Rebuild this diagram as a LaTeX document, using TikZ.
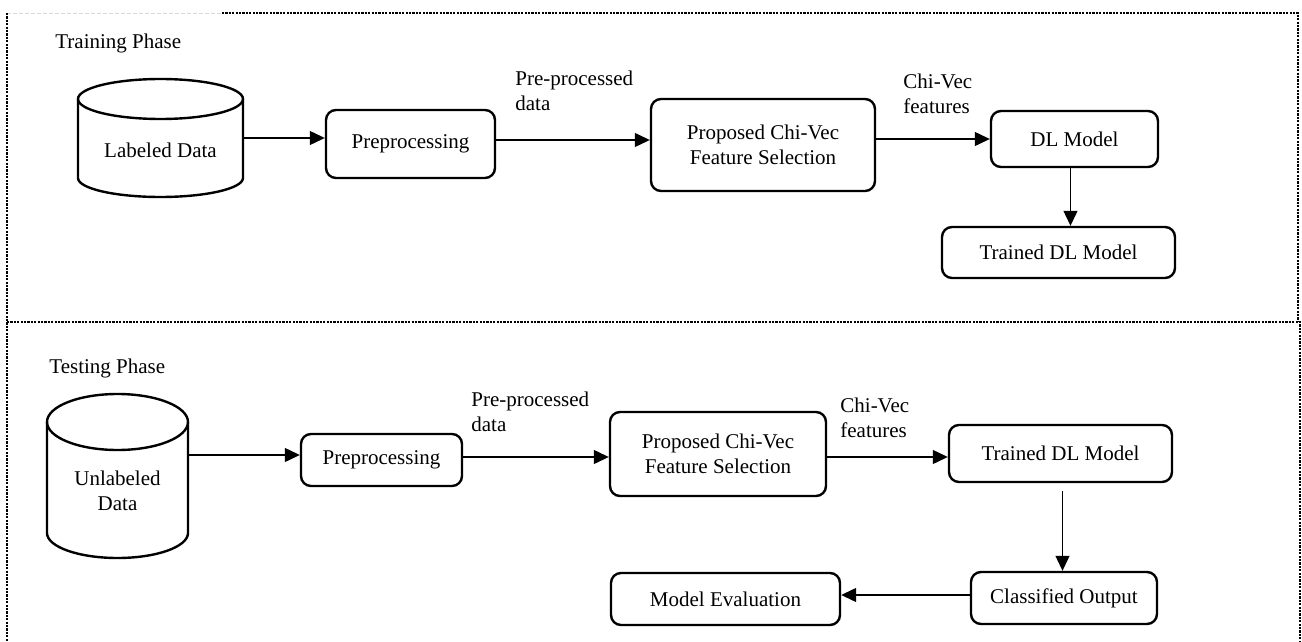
\documentclass[tikz,border=0pt]{standalone}
\usepackage{fontspec}
\setmainfont{Liberation Serif}
\usetikzlibrary{arrows.meta,calc}
\begin{document}
\begin{tikzpicture}[x=0.5pt,y=-0.5pt,
  every node/.style={font=\fontsize{10.5}{12.5}\selectfont},
  procbox/.style={draw,line width=1.2pt,rounded corners=5pt,align=center,inner sep=0pt},
  lbl/.style={anchor=west,align=left,inner sep=0pt},
  cyl/.style={line width=1.2pt},
  arr/.style={line width=0.6pt,-{Triangle[length=7.5pt,width=7pt]}},
  frame/.style={line width=1.2pt,dash pattern=on 1.1pt off 0.6pt},
]
\useasboundingbox (0,0) rectangle (1302,642);
% frame
\draw[gray!30,line width=0.4pt,dash pattern=on 2pt off 1pt] (7,13) -- (222,13);
\draw[frame] (222,13) -- (1298,13) -- (1298,322);
\draw[frame] (7,13) -- (7,642);
\draw[frame] (7,322) -- (1300,322) -- (1300,642);
% phase labels
\node[lbl] (trp) at (55,43) {Training Phase};
\node[lbl] (tep) at (49,368) {Testing Phase};
% ---- Training
\draw[cyl] (160.5,99) ellipse [x radius=41.25pt, y radius=10pt];
\draw[cyl] (78,99) -- (78,178) arc[start angle=180, end angle=360, x radius=41.25pt, y radius=9.5pt] -- (243,99);
\node[align=center,inner sep=0pt,minimum width=82.5pt] (ld) at (160.5,150) {Labeled Data};
\node[procbox,minimum width=84.5pt,minimum height=34pt] (pre1) at (410.5,144) {Preprocessing};
\node[procbox,minimum width=112pt,minimum height=46pt] (prop1) at (763,145) {Proposed Chi-Vec\\Feature Selection};
\node[procbox,minimum width=83.5pt,minimum height=28pt] (dl1) at (1074.5,139) {DL Model};
\node[procbox,minimum width=116.5pt,minimum height=25.5pt] (tdl1) at (1058.5,252.5) {Trained DL Model};
\node[lbl] (l1) at (515,90.5) {Pre-processed\\data};
\node[lbl] (l2) at (903,94) {Chi-Vec\\features};
\draw[arr] ([yshift=6pt]ld.east) -- ([yshift=6pt]ld.east -| pre1.west);
\draw[arr] ([yshift=2pt]pre1.east) -- ([yshift=2pt]pre1.east -| prop1.west);
\draw[arr] (prop1.east |- dl1.west) -- (dl1.west);
\draw[arr] ([xshift=-2pt]dl1.south) -- ([xshift=-2pt]dl1.south |- tdl1.north);
% ---- Testing
\draw[cyl] (117.5,422) ellipse [x radius=35.25pt, y radius=14pt];
\draw[cyl] (47,422) -- (47,533) arc[start angle=180, end angle=360, x radius=35.25pt, y radius=12.5pt] -- (188,422);
\node[align=center,inner sep=0pt,minimum width=70.5pt] (uld) at (117.5,490.5) {Unlabeled\\Data};
\node[procbox,minimum width=80.5pt,minimum height=26pt] (pre2) at (381.5,460) {Preprocessing};
\node[procbox,minimum width=108pt,minimum height=42pt] (prop2) at (718,454) {Proposed Chi-Vec\\Feature Selection};
\node[procbox,minimum width=111.5pt,minimum height=28.5pt] (tdl2) at (1060.5,453.5) {Trained DL Model};
\node[procbox,minimum width=93pt,minimum height=26pt] (co) at (1064,598) {Classified Output};
\node[procbox,minimum width=114.5pt,minimum height=26pt] (me) at (725.5,599) {Model Evaluation};
\node[lbl] (l3) at (471,412) {Pre-processed\\data};
\node[lbl] (l4) at (840,417.5) {Chi-Vec\\features};
\draw[arr] ([yshift=2.5pt]pre2.west -| uld.east) -- ([yshift=2.5pt]pre2.west);
\draw[arr] ([yshift=1.5pt]pre2.east) -- ([yshift=1.5pt]pre2.east -| prop2.west);
\draw[arr] ([yshift=-1.5pt]prop2.east) -- ([yshift=-1.5pt]prop2.east -| tdl2.west);
\draw[arr,shorten <=4pt] ([xshift=1pt]tdl2.south) -- ([xshift=1pt]tdl2.south |- co.north);
\draw[arr] ([yshift=1.5pt]co.west) -- ([yshift=1.5pt]co.west -| me.east);
\end{tikzpicture}
\end{document}
